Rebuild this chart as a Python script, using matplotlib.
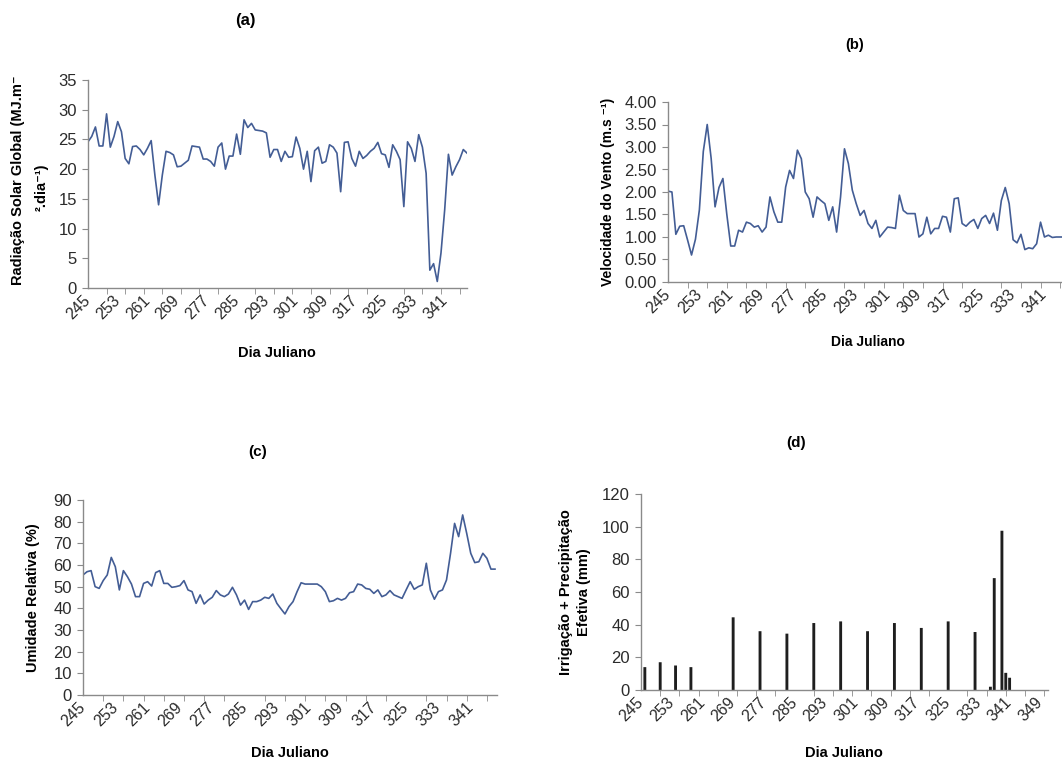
import numpy as np
import matplotlib
matplotlib.use('Agg')
import matplotlib.pyplot as plt
from matplotlib.ticker import FormatStrFormatter

plt.rcParams['font.family'] = ['Liberation Sans', 'DejaVu Sans']

# (a) radiacao solar global, dias 245-347
radiacao = [24.6, 25.5, 27.1, 23.9, 23.9, 29.3, 23.7, 25.5, 28.0, 26.3,
            21.8, 20.9, 23.8, 23.9, 23.3, 22.4, 23.5, 24.8, 19.0, 14.0,
            19.0, 23.0, 22.8, 22.4, 20.4, 20.5, 21.0, 21.5, 23.9, 23.8,
            23.7, 21.7, 21.7, 21.3, 20.5, 23.7, 24.4, 20.0, 22.2, 22.2,
            25.9, 22.5, 28.3, 27.0, 27.7, 26.6, 26.5, 26.4, 26.1, 22.0,
            23.3, 23.3, 21.3, 23.0, 22.0, 22.1, 25.4, 23.5, 20.0, 23.0,
            17.9, 23.1, 23.7, 21.0, 21.3, 24.1, 23.7, 22.7, 16.2, 24.5,
            24.6, 21.8, 20.5, 23.0, 21.8, 22.3, 23.0, 23.5, 24.5, 22.6,
            22.4, 20.3, 24.1, 23.0, 21.6, 13.7, 24.6, 23.5, 21.3, 25.8,
            23.7, 19.3, 3.0, 4.1, 1.1, 5.9, 13.2, 22.5, 19.0, 20.4,
            21.6, 23.3, 22.7]

# (b) velocidade do vento
vento = [2.02, 2.00, 1.06, 1.24, 1.25, 0.93, 0.60, 0.95, 1.60, 2.90,
         3.50, 2.75, 1.67, 2.10, 2.30, 1.50, 0.80, 0.80, 1.15, 1.11,
         1.33, 1.30, 1.22, 1.25, 1.11, 1.22, 1.89, 1.56, 1.33, 1.33,
         2.11, 2.48, 2.30, 2.93, 2.74, 2.00, 1.85, 1.44, 1.89, 1.81,
         1.74, 1.37, 1.67, 1.11, 1.89, 2.96, 2.63, 2.04, 1.74, 1.48,
         1.59, 1.30, 1.19, 1.37, 1.00, 1.11, 1.22, 1.21, 1.19, 1.93,
         1.59, 1.52, 1.52, 1.52, 1.00, 1.07, 1.44, 1.07, 1.19, 1.19,
         1.46, 1.44, 1.11, 1.85, 1.87, 1.30, 1.24, 1.33, 1.39, 1.19,
         1.41, 1.48, 1.30, 1.53, 1.15, 1.81, 2.10, 1.74, 0.94, 0.87,
         1.06, 0.72, 0.76, 0.74, 0.85, 1.33, 1.00, 1.04, 0.99, 1.00,
         1.00, 1.00, 1.00]

# (c) umidade relativa
umidade = [55.4, 56.9, 57.4, 50.0, 49.2, 52.8, 55.4, 63.5, 59.2, 48.5,
           57.4, 54.6, 51.2, 45.4, 45.4, 51.5, 52.3, 50.3, 56.5, 57.4,
           51.5, 51.5, 49.7, 50.0, 50.5, 52.8, 48.5, 47.7, 42.3, 46.2,
           42.0, 43.8, 45.1, 48.2, 46.2, 45.4, 46.6, 49.7, 46.2, 41.5,
           43.8, 39.5, 43.1, 43.1, 43.8, 45.1, 44.6, 46.6, 42.3, 39.8,
           37.4, 40.8, 43.1, 47.7, 51.8, 51.2, 51.2, 51.2, 51.2, 50.0,
           47.7, 43.1, 43.5, 44.6, 43.8, 44.6, 47.2, 47.7, 51.2, 50.8,
           49.2, 48.8, 46.9, 48.5, 45.4, 46.2, 48.2, 46.2, 45.4, 44.6,
           48.5, 52.3, 48.8, 50.0, 50.8, 60.8, 48.5, 44.2, 47.7, 48.5,
           53.1, 65.4, 79.2, 73.1, 83.1, 74.6, 65.4, 61.1, 61.5, 65.4,
           63.1, 58.1, 58.1]

# (d) irrigacao + precipitacao efetiva
dias_irrig = [246, 250, 254, 258, 269, 276, 283, 290, 297, 304, 311, 318,
              325, 332, 336, 337, 339, 340, 341]
lamina = [14, 17, 15, 14, 44.5, 36, 34.5, 41, 42, 36, 41, 38,
          42, 35.5, 2, 68.5, 97.5, 10.5, 7.5]

dias = np.arange(245, 245 + len(radiacao))

W, H = 1062, 760
fig = plt.figure(figsize=(W / 100, H / 100), dpi=100)

def px_axes(left, top, right, bottom):
    return fig.add_axes([left / W, 1 - bottom / H, (right - left) / W, (bottom - top) / H])

def ftext(x, y, s, **kw):
    fig.text(x / W, 1 - y / H, s, ha='center', va='center', **kw)

linha = '#435d95'
cinza = '#8a8a8a'
texto = '#2b2b2b'

def estilo(ax, xmax, ultimo_rotulo, ymax, ystep, fmt=None):
    for s in ['top', 'right']:
        ax.spines[s].set_visible(False)
    for s in ['left', 'bottom']:
        ax.spines[s].set_color(cinza)
        ax.spines[s].set_linewidth(1.0)
    ax.set_xlim(245, xmax)
    ax.set_ylim(0, ymax)
    ax.set_yticks(np.arange(0, ymax + ystep / 2, ystep))
    if fmt:
        ax.yaxis.set_major_formatter(FormatStrFormatter(fmt))
    ax.set_xticks(np.arange(245, ultimo_rotulo + 1, 8))
    ax.set_xticks(np.arange(245, xmax + 0.1, 5), minor=True)
    ax.tick_params(axis='x', which='major', length=0, pad=7, labelsize=11.5, labelcolor=texto)
    ax.tick_params(axis='x', which='minor', length=4, color=cinza, direction='out')
    ax.tick_params(axis='y', length=4, color=cinza, labelsize=12, labelcolor=texto, pad=4)
    for lb in ax.get_xticklabels():
        lb.set_rotation(45)
        lb.set_ha('right')
        lb.set_va('center')
        lb.set_rotation_mode('anchor')

# (a)
ax1 = px_axes(88, 80, 467, 288)
ax1.plot(dias, radiacao, color=linha, lw=1.2)
estilo(ax1, 347, 341, 35, 5)
ftext(245, 20, '(a)', fontsize=12, fontweight='bold')
ftext(18, 180, 'Radiação Solar Global (MJ.m\u207b', fontsize=10.5, fontweight='bold', rotation=90)
ftext(42, 187, '\u00b2.dia\u207b\u00b9)', fontsize=10.5, fontweight='bold', rotation=90)
ftext(277, 353, 'Dia Juliano', fontsize=10.5, fontweight='bold')

# (b)
ax2 = px_axes(668, 102, 1068, 282)
ax2.plot(dias, vento, color=linha, lw=1.2)
estilo(ax2, 347, 341, 4.0, 0.5, '%.2f')
ftext(855, 45, '(b)', fontsize=10.5, fontweight='bold')
ftext(608, 192, 'Velocidade do Vento (m.s \u207b\u00b9)', fontsize=10, fontweight='bold', rotation=90)
ftext(868, 342, 'Dia Juliano', fontsize=10, fontweight='bold')

# (c)
ax3 = px_axes(83, 500, 497, 695)
ax3.plot(dias, umidade, color=linha, lw=1.2)
estilo(ax3, 347.5, 341, 90, 10)
ftext(258, 452, '(c)', fontsize=11, fontweight='bold')
ftext(33, 598, 'Umidade Relativa (%)', fontsize=10.5, fontweight='bold', rotation=90)
ftext(290, 753, 'Dia Juliano', fontsize=10.5, fontweight='bold')

# (d)
ax4 = px_axes(641, 494, 1048, 690)
ax4.bar(dias_irrig, lamina, width=0.75, color='#1e1e1e', linewidth=0, snap=False)
estilo(ax4, 351, 349, 120, 20)
ftext(796, 443, '(d)', fontsize=11, fontweight='bold')
ftext(575, 592, 'Irrigação + Precipitação\nEfetiva (mm)', fontsize=10.5, fontweight='bold',
      rotation=90, linespacing=1.4)
ftext(844, 753, 'Dia Juliano', fontsize=10.5, fontweight='bold')

fig.savefig('out.png', dpi=100)
